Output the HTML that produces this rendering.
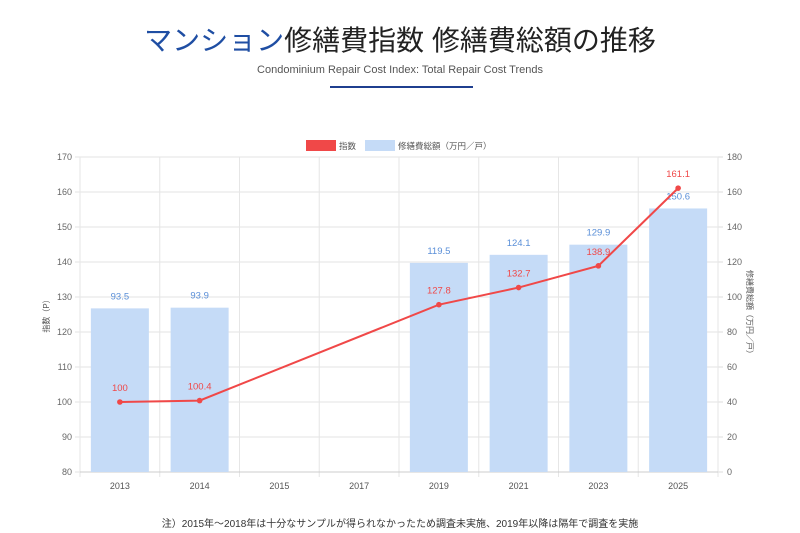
<!DOCTYPE html>
<html><head><meta charset="utf-8"><style>
body{margin:0;background:#fff;width:800px;height:533px;overflow:hidden;font-family:"Liberation Sans","Noto Sans CJK JP",sans-serif}
</style></head><body>
<div style="position:absolute;top:23px;left:0;width:800px;text-align:center;font-size:28px;color:#222;line-height:36px"><span style="color:#1f4ea3">マンション</span>修繕費指数 修繕費総額の推移</div>
<div style="position:absolute;top:64px;left:0;width:800px;text-align:center;font-size:11px;color:#555">Condominium Repair Cost Index: Total Repair Cost Trends</div>
<div style="position:absolute;top:86px;left:330px;width:143px;height:2px;background:#1f3f8f"></div>
<svg id="c" width="800" height="533" style="position:absolute;left:0;top:0" font-family="Liberation Sans, Noto Sans CJK JP, sans-serif"></svg>
<div style="position:absolute;top:515px;left:0;width:800px;text-align:center;font-size:10px;color:#333">注）2015年～2018年は十分なサンプルが得られなかったため調査未実施、2019年以降は隔年で調査を実施</div>
<script>
const categories=["2013","2014","2015","2017","2019","2021","2023","2025"];
const indexValues=[100,100.4,null,null,127.8,132.7,138.9,161.1];
const costValues=[93.5,93.9,null,null,119.5,124.1,129.9,150.6];
const leftTicks=[80,90,100,110,120,130,140,150,160,170];
const rightTicks=[0,20,40,60,80,100,120,140,160,180];
const svg=document.getElementById('c');const NS='http://www.w3.org/2000/svg';
const X0=80,X1=718,Y0=472,Y1=157;
const bw=(X1-X0)/categories.length;
const xc=i=>X0+bw*(i+0.5);
const yl=v=>Y0-(v-80)/(170-80)*(Y0-Y1);
const yr=v=>Y0-v/180*(Y0-Y1);
function mk(t,a,p){const e=document.createElementNS(NS,t);for(const k in a)e.setAttribute(k,a[k]);(p||svg).appendChild(e);return e;}
function tx(s,a){const e=mk('text',a);e.textContent=s;return e;}
leftTicks.forEach((v,i)=>{const y=yl(v);
const g=mk('line',{x1:X0-5,x2:X1,y1:y,y2:y,stroke:'#e3e3e3'});
const t=tx(v,{x:72,y:y+3,'text-anchor':'end','font-size':9,fill:'#666'});});
rightTicks.forEach(v=>{const y=yr(v);mk('line',{x1:X1,x2:X1+5,y1:y,y2:y,stroke:'#ddd'});
const t=tx(v,{x:727,y:y+3,'font-size':9,fill:'#666'});});
for(let i=0;i<=categories.length;i++){const x=X0+bw*i;mk('line',{x1:x,x2:x,y1:Y1,y2:Y0+5,stroke:'#e6e6e6'});}
mk('line',{x1:X0,x2:X1,y1:Y0,y2:Y0,stroke:'#ccc'});
categories.forEach((c,i)=>{const t=tx(c,{x:xc(i),y:489,'text-anchor':'middle','font-size':9,fill:'#555'});});
costValues.forEach((v,i)=>{if(v==null)return;const y=yr(v);
const r=mk('rect',{x:xc(i)-29,y:y,width:58,height:Y0-y,fill:'#c5dbf7'});
const t=tx(v.toFixed(1),{x:xc(i),y:y-9,'text-anchor':'middle','font-size':9.5,fill:'#5a8fd8'});});
const pts=indexValues.map((v,i)=>v==null?null:[xc(i),yl(v)]).filter(p=>p);
const pl=mk('polyline',{points:pts.map(p=>p.join(',')).join(' '),fill:'none',stroke:'#f04848','stroke-width':2});
indexValues.forEach((v,i)=>{if(v==null)return;const y=yl(v);
const c=mk('circle',{cx:xc(i),cy:y,r:2.8,fill:'#f04848'});
const t=tx(String(v),{x:xc(i),y:y-11,'text-anchor':'middle','font-size':9.5,fill:'#f04848'});});
let t=tx('指数（P）',{transform:'translate(49,314) rotate(-90)','text-anchor':'middle','font-size':8,fill:'#555'});
t=tx('修繕費総額（万円／戸）',{transform:'translate(747,314) rotate(90)','text-anchor':'middle','font-size':8,fill:'#555'});
let r=mk('rect',{x:306,y:140,width:30,height:11,fill:'#f04848'});
t=tx('指数',{x:339,y:149,'font-size':8.5,fill:'#555'});
r=mk('rect',{x:365,y:140,width:30,height:11,fill:'#c5dbf7'});
t=tx('修繕費総額（万円／戸）',{x:398,y:149,'font-size':8.5,fill:'#555'});
</script>
</body></html>
